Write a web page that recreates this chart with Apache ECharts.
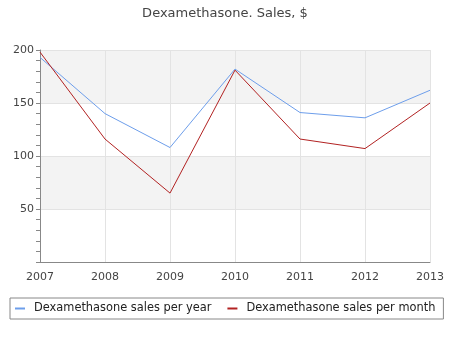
<!DOCTYPE html>
<html><head><meta charset="utf-8">
<script src="https://cdn.jsdelivr.net/npm/echarts@6/dist/echarts.min.js"></script>
<style>html,body{margin:0;padding:0;background:#fff}#c{width:450px;height:350px}</style>
</head><body><div id="c"></div>
<script>
var years = ['2007','2008','2009','2010','2011','2012','2013'];
var perYear = [193, 140, 108, 182, 141, 136, 162];
var perMonth = [198, 116, 65, 181, 116, 107, 150];
var yTicks = [0, 50, 100, 150, 200];

var chart = echarts.init(document.getElementById('c'));
chart.setOption({
  animation: false,
  title: {text: 'Dexamethasone. Sales, $', left: 'center', top: 2,
    textStyle: {fontFamily: 'DejaVu Sans', fontSize: 13, fontWeight: 'normal', color: '#444'}},
  grid: {left: 40, right: 20, top: 50, bottom: 88},
  xAxis: {type: 'category', data: years, boundaryGap: false,
    axisLine: {lineStyle: {color: '#888'}},
    axisTick: {show: false},
    axisLabel: {fontFamily: 'DejaVu Sans', fontSize: 11, color: '#444', margin: 10},
    splitLine: {show: true, lineStyle: {color: '#e3e3e3'}}},
  yAxis: {type: 'value', min: yTicks[0], max: yTicks[yTicks.length-1], interval: 50,
    axisLine: {show: true, lineStyle: {color: '#888'}},
    axisTick: {show: true, length: 4, lineStyle: {color: '#888'}},
    minorTick: {show: true, splitNumber: 5, length: 4, lineStyle: {color: '#888'}},
    axisLabel: {fontFamily: 'DejaVu Sans', fontSize: 11, color: '#444', margin: 6,
      formatter: function(v){ return v === 0 ? '' : String(v); }},
    splitLine: {show: true, lineStyle: {color: '#e3e3e3'}},
    splitArea: {show: true, areaStyle: {color: ['#ffffff', '#f3f3f3']}}},
  legend: {top: 298, left: 10, borderColor: '#888', borderWidth: 1,
    padding: [5, 8, 5, 5], itemWidth: 10, itemHeight: 2, itemGap: 16, borderRadius: 0,
    textStyle: {fontFamily: 'DejaVu Sans', fontSize: 11.4, color: '#222', padding: [0, 0, 0, 4]},
    data: [{name: 'Dexamethasone sales per year', icon: 'rect'}, {name: 'Dexamethasone sales per month', icon: 'rect'}]},
  series: [
    {name: 'Dexamethasone sales per year', type: 'line', data: perYear, symbol: 'none',
      color: '#6d9eeb', lineStyle: {width: 1, color: '#6d9eeb'}},
    {name: 'Dexamethasone sales per month', type: 'line', data: perMonth, symbol: 'none',
      color: '#b22222', lineStyle: {width: 1, color: '#b22222'}}
  ]
});
</script></body></html>
